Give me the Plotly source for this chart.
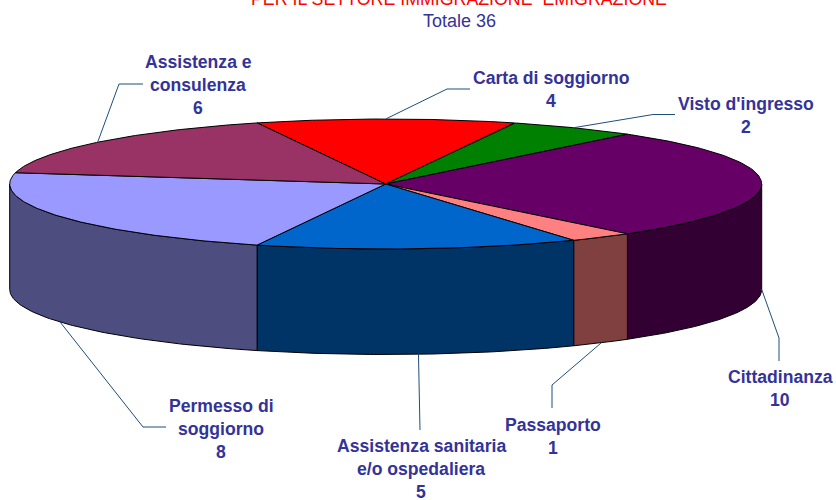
import numpy as np
import plotly.graph_objects as go

# --- data ---
categories = ["Carta di soggiorno", "Visto d'ingresso", "Cittadinanza", "Passaporto",
              "Assistenza sanitaria\ne/o ospedaliera", "Permesso di\nsoggiorno", "Assistenza e\nconsulenza"]
values = [4, 2, 10, 1, 5, 8, 6]
top_colors = ["#FF0000", "#008000", "#660066", "#FF8080", "#0066CC", "#9999FF", "#993366"]
side_colors = ["#800000", "#004000", "#330033", "#804040", "#003366", "#4D4D80", "#4D1A33"]
title_text = "PER IL SETTORE IMMIGRAZIONE\u00a0\u00a0EMIGRAZIONE"
subtitle_text = "Totale 36"

# --- pie projection (pixel space) ---
CX, CY, RX, RY, DEPTH = 385.7, 184.0, 376.0, 65.0, 105.5
START = -20.0
BLUE, RED, LEADER = "#333399", "#FF0000", "#1F4E79"
FONT = "Liberation Sans, Arial, sans-serif"

# per-label layout: elbow, leader end, label centre x, first line centre y
label_layout = [
    ((447, 89), (470, 89), 551, 77.5),
    ((653, 114.5), (675, 114.5), 745.5, 103.5),
    ((779, 338), (779, 361), 780, 376.5),
    ((552, 385), (552, 408), 553, 424.5),
    ((420, 408), (420, 430), 421, 445.5),
    ((143, 427), (166, 427), 221, 405.5),
    ((119, 84), (143, 84), 198, 61.5),
]
LINE_STEP = 23.4


def rim(t, dy=0.0):
    r = np.radians(t)
    return CX + RX * np.sin(r), CY - RY * np.cos(r) + dy


fig = go.Figure()
total = sum(values)
edges = START + np.concatenate([[0], np.cumsum(values)]) * 360.0 / total

# side walls: only the front half (90..270 deg) is visible
for i, v in enumerate(values):
    a, b = max(edges[i], 90.0), min(edges[i + 1], 270.0)
    if b <= a:
        continue
    t = np.linspace(a, b, 80)
    x1, y1 = rim(t)
    x2, y2 = rim(t[::-1], DEPTH)
    fig.add_trace(go.Scatter(
        x=np.r_[x1, x2, x1[0]], y=np.r_[y1, y2, y1[0]], mode="lines", fill="toself",
        fillcolor=side_colors[i], line=dict(color="#000000", width=1),
        hoverinfo="skip", showlegend=False))

# top faces
for i, v in enumerate(values):
    t = np.linspace(edges[i], edges[i + 1], 120)
    x, y = rim(t)
    fig.add_trace(go.Scatter(
        x=np.r_[CX, x, CX], y=np.r_[CY, y, CY], mode="lines", fill="toself",
        fillcolor=top_colors[i], line=dict(color="#000000", width=1),
        name=categories[i].replace("\n", " "), text=f"{categories[i]}: {v}".replace("\n", " "),
        hoverinfo="text", showlegend=False))

# leaders and labels
annotations = []
for i, v in enumerate(values):
    mid = (edges[i] + edges[i + 1]) / 2.0
    mid_n = mid % 360
    dy = DEPTH if 90 <= mid_n <= 270 else 0.0
    x0, y0 = rim(mid, dy)
    elbow, end, lx, ly = label_layout[i]
    fig.add_trace(go.Scatter(
        x=[float(x0), elbow[0], end[0]], y=[float(y0), elbow[1], end[1]], mode="lines",
        line=dict(color=LEADER, width=1), hoverinfo="skip", showlegend=False))
    lines = categories[i].split("\n") + [str(v)]
    for k, line in enumerate(lines):
        annotations.append(dict(
            x=lx, y=ly + k * LINE_STEP, text=f"<b>{line}</b>", showarrow=False,
            xanchor="center", yanchor="middle",
            font=dict(family=FONT, size=17.6, color=BLUE)))

# title sits partly above the page edge: paper reference keeps it from being dropped
annotations.append(dict(x=458.5, xref="x", y=1.002, yref="paper", text=title_text, showarrow=False,
                        xanchor="center", yanchor="middle",
                        font=dict(family=FONT, size=17.8, color=RED)))
annotations.append(dict(x=459.5, y=20.5, text=subtitle_text, showarrow=False, xanchor="center",
                        yanchor="middle", font=dict(family=FONT, size=18, color=BLUE)))

fig.update_layout(
    width=836, height=500, margin=dict(l=0, r=0, t=0, b=0),
    paper_bgcolor="#FFFFFF", plot_bgcolor="#FFFFFF", showlegend=False,
    xaxis=dict(range=[0, 836], visible=False, fixedrange=True),
    yaxis=dict(range=[500, 0], visible=False, fixedrange=True),
    annotations=annotations,
)
fig.write_html("out.html", post_script="document.body.style.margin='0';document.documentElement.style.overflow='hidden';",
               config={"displayModeBar": False})
